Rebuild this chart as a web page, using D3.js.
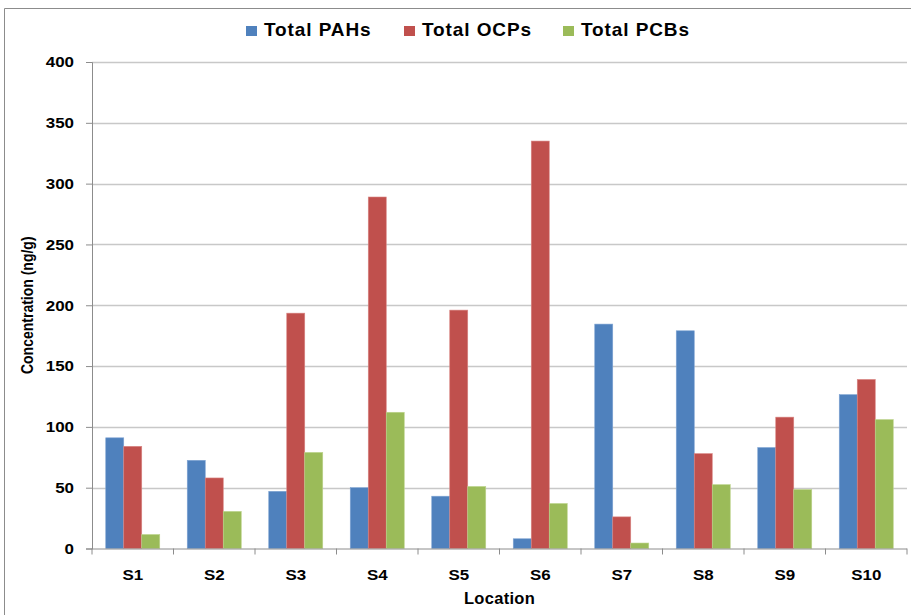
<!DOCTYPE html>
<html>
<head>
<meta charset="utf-8">
<script src="https://cdn.jsdelivr.net/npm/d3@7"></script>
<style>
body { margin: 0; background: #fff; }
svg { display: block; font-family: "Liberation Sans", Arial, sans-serif; }
</style>
</head>
<body>
<div id="chart"></div>
<script>
var locations = ['S1', 'S2', 'S3', 'S4', 'S5', 'S6', 'S7', 'S8', 'S9', 'S10'];
var seriesNames = ['Total PAHs', 'Total OCPs', 'Total PCBs'];
var pahs = [91, 72.5, 47, 50, 43, 8, 184.5, 179, 83, 126.5];
var ocps = [84, 58, 193.5, 289, 196, 335, 26, 78, 108, 139];
var pcbs = [11.5, 30.5, 79, 112, 51, 37, 4.5, 52.5, 48.5, 106];
var yTicks = [0, 50, 100, 150, 200, 250, 300, 350, 400];

var colors = ['#4f81bd', '#c0504d', '#9bbb59'];
var strokes = ['#7ea3d3', '#d98683', '#bcd48c'];

var chart_width = 911, chart_height = 615;
var plot_left = 92, plot_right = 907, plot_top = 62, plot_bottom = 548.5;
var stretch = 1.13; // text in the picture is a little wide

var rows = locations.map(function(loc, i) {
    return { loc: loc, values: [pahs[i], ocps[i], pcbs[i]] };
});

var svg = d3.select('#chart')
    .append('svg')
    .attr('width', chart_width)
    .attr('height', chart_height);

// outer frame
svg.append('path')
    .attr('d', 'M4.5,' + chart_height + 'V8.5H' + chart_width)
    .attr('fill', 'none')
    .attr('stroke', '#8c8c8c');

var x_scale = d3.scaleBand()
    .domain(locations)
    .range([plot_left, plot_right])
    .paddingInner(0.3374)
    .paddingOuter(0.1687);

var x_inner = d3.scaleBand()
    .domain(d3.range(seriesNames.length))
    .range([0, x_scale.bandwidth()]);

var y_scale = d3.scaleLinear()
    .domain([0, 400])
    .range([plot_bottom, plot_top]);

// gridlines
svg.append('g')
    .selectAll('line')
    .data(yTicks.slice(1))
    .enter()
    .append('line')
    .attr('x1', plot_left)
    .attr('x2', plot_right)
    .attr('y1', function(d) { return Math.round(y_scale(d)) + 0.5; })
    .attr('y2', function(d) { return Math.round(y_scale(d)) + 0.5; })
    .attr('stroke', '#c8c8c8')
    .attr('stroke-width', 1.5);

// bars
var groups = svg.append('g')
    .selectAll('g')
    .data(rows)
    .enter()
    .append('g')
    .attr('transform', function(d) { return 'translate(' + x_scale(d.loc) + ',0)'; });

groups.selectAll('rect')
    .data(function(d) { return d.values; })
    .enter()
    .append('rect')
    .attr('x', function(d, i) { return x_inner(i); })
    .attr('y', function(d) { return y_scale(d); })
    .attr('width', x_inner.bandwidth())
    .attr('height', function(d) { return y_scale(0) - y_scale(d); })
    .attr('fill', function(d, i) { return colors[i]; })
    .attr('stroke', function(d, i) { return strokes[i]; })
    .attr('stroke-width', 0.6);

// y axis
var y_axis = d3.axisLeft(y_scale)
    .tickValues(yTicks)
    .tickSize(6);

var yg = svg.append('g')
    .attr('transform', 'translate(' + plot_left + ',0)')
    .call(y_axis);
yg.select('.domain').attr('stroke', '#8c8c8c');
yg.selectAll('.tick line').attr('stroke', '#8c8c8c');
yg.selectAll('.tick text')
    .attr('x', 0)
    .attr('transform', 'translate(-18,0) scale(' + stretch + ',1)')
    .attr('font-size', 15)
    .attr('font-weight', 'bold')
    .attr('fill', '#000');

// x axis with ticks at band edges
var edges = locations.map(function(d) { return x_scale(d) - x_scale.step() * x_scale.paddingOuter(); });
edges.push(plot_right);

svg.append('line')
    .attr('x1', plot_left).attr('x2', plot_right)
    .attr('y1', plot_bottom + 0.5).attr('y2', plot_bottom + 0.5)
    .attr('stroke', '#8c8c8c');

svg.append('g')
    .selectAll('line')
    .data(edges)
    .enter()
    .append('line')
    .attr('x1', function(d) { return d; })
    .attr('x2', function(d) { return d; })
    .attr('y1', plot_bottom)
    .attr('y2', plot_bottom + 6)
    .attr('stroke', '#8c8c8c');

svg.append('g')
    .selectAll('text')
    .data(locations)
    .enter()
    .append('text')
    .attr('transform', function(d) {
        return 'translate(' + (x_scale(d) + x_scale.bandwidth() / 2) + ',579.5) scale(' + stretch + ',1)';
    })
    .attr('text-anchor', 'middle')
    .attr('font-size', 15)
    .attr('font-weight', 'bold')
    .text(function(d) { return d; });

// axis titles
svg.append('text')
    .attr('x', (plot_left + plot_right) / 2)
    .attr('y', 603.5)
    .attr('text-anchor', 'middle')
    .attr('font-size', 16.5)
    .attr('font-weight', 'bold')
    .attr('letter-spacing', 0.3)
    .text('Location');

svg.append('text')
    .attr('transform', 'translate(33,' + ((plot_top + plot_bottom) / 2) + ') rotate(-90) scale(1,1.15)')
    .attr('text-anchor', 'middle')
    .attr('font-size', 14)
    .attr('font-weight', 'bold')
    .text('Concentration (ng/g)');

// legend
var legendX = [246, 404, 563];
var legend = svg.append('g')
    .selectAll('g')
    .data(seriesNames)
    .enter()
    .append('g')
    .attr('transform', function(d, i) { return 'translate(' + legendX[i] + ',0)'; });

legend.append('rect')
    .attr('x', 0)
    .attr('y', 26)
    .attr('width', 11)
    .attr('height', 10)
    .attr('fill', function(d, i) { return colors[i]; });

legend.append('text')
    .attr('x', 18)
    .attr('y', 36)
    .attr('font-size', 19)
    .attr('font-weight', 'bold')
    .attr('letter-spacing', 0.9)
    .text(function(d) { return d; });
</script>
</body>
</html>
